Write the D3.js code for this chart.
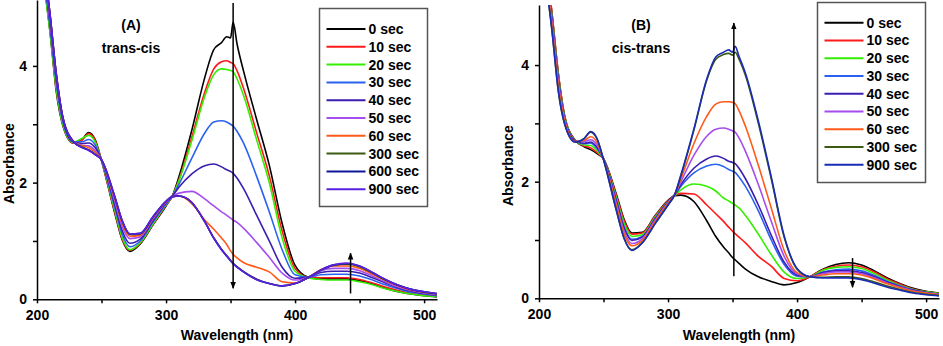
<!DOCTYPE html>
<meta charset="utf-8">
<style>
body { margin: 0; background: #fff; }
svg text { font-family: "Liberation Sans", Arial, sans-serif; font-weight: bold; fill: #000; }
.axis path, .axis line { stroke: #000; stroke-width: 1.5px; }
.axis text { font-size: 14px; }
</style>
<body>
<script src="https://cdn.jsdelivr.net/npm/d3@7"></script>
<script>
// wavelength grid (nm) shared by every spectrum
var wavelengths = [205, 210, 215, 220, 228, 235, 240, 245, 250, 260, 266, 272, 280, 290, 300, 305, 310, 320, 330, 337, 343, 347, 350, 352, 355, 360, 370, 380, 390, 400, 410, 420, 430, 440, 450, 460, 470, 480, 490, 500, 510];

// (A) trans-cis
var timesA = ["0 sec", "10 sec", "20 sec", "30 sec", "40 sec", "50 sec", "60 sec", "300 sec", "600 sec", "900 sec"];
var colorsA = ["#000000", "#ff1a1a", "#33ee00", "#2a62f0", "#3b1db0", "#a64df0", "#ff5a1a", "#3d5a12", "#10189a", "#5a20e0"];
var absA0   = [5.5, 4.6, 3.55, 2.98, 2.68, 2.74, 2.86, 2.74, 2.38, 1.50, 1.02, 0.82, 0.95, 1.28, 1.60, 1.78, 2.10, 2.90, 3.80, 4.28, 4.40, 4.50, 4.48, 4.75, 4.38, 3.92, 3.10, 2.30, 1.30, 0.58, 0.38, 0.35, 0.35, 0.35, 0.32, 0.26, 0.19, 0.13, 0.09, 0.06, 0.04];
var absA10  = [5.5, 4.65, 3.6, 3.0, 2.68, 2.73, 2.84, 2.73, 2.38, 1.52, 1.04, 0.84, 0.96, 1.29, 1.61, 1.77, 2.05, 2.78, 3.55, 3.95, 4.07, 4.09, 4.06, 4.04, 3.92, 3.62, 2.87, 2.12, 1.17, 0.53, 0.38, 0.37, 0.37, 0.37, 0.34, 0.28, 0.21, 0.15, 0.10, 0.07, 0.05];
var absA20  = [5.5, 4.6, 3.6, 3.0, 2.69, 2.76, 2.81, 2.70, 2.38, 1.55, 1.06, 0.85, 0.97, 1.30, 1.62, 1.77, 2.03, 2.72, 3.48, 3.85, 3.95, 3.94, 3.92, 3.90, 3.78, 3.50, 2.75, 2.00, 1.05, 0.48, 0.37, 0.34, 0.33, 0.33, 0.30, 0.25, 0.18, 0.13, 0.09, 0.06, 0.05];
var absA30  = [5.6, 4.7, 3.7, 3.05, 2.70, 2.70, 2.74, 2.65, 2.38, 1.60, 1.12, 0.90, 1.00, 1.33, 1.63, 1.77, 1.97, 2.42, 2.85, 3.04, 3.06, 3.04, 3.00, 2.97, 2.88, 2.68, 2.12, 1.50, 0.85, 0.42, 0.38, 0.42, 0.43, 0.43, 0.40, 0.33, 0.25, 0.18, 0.12, 0.09, 0.06];
var absA40  = [5.6, 4.75, 3.75, 3.08, 2.70, 2.67, 2.68, 2.60, 2.39, 1.65, 1.18, 0.96, 1.03, 1.35, 1.65, 1.77, 1.92, 2.15, 2.29, 2.32, 2.27, 2.22, 2.19, 2.16, 2.08, 1.90, 1.45, 1.00, 0.55, 0.36, 0.38, 0.46, 0.48, 0.48, 0.45, 0.37, 0.28, 0.20, 0.14, 0.10, 0.07];
var absA50  = [5.7, 4.8, 3.8, 3.1, 2.71, 2.64, 2.63, 2.55, 2.39, 1.70, 1.25, 1.04, 1.07, 1.38, 1.66, 1.76, 1.82, 1.85, 1.72, 1.60, 1.50, 1.44, 1.39, 1.36, 1.32, 1.22, 0.98, 0.72, 0.45, 0.33, 0.38, 0.49, 0.53, 0.53, 0.49, 0.40, 0.30, 0.21, 0.15, 0.11, 0.08];
var absA60  = [5.8, 4.9, 3.85, 3.12, 2.71, 2.63, 2.60, 2.52, 2.39, 1.74, 1.30, 1.08, 1.10, 1.40, 1.67, 1.76, 1.77, 1.64, 1.36, 1.20, 1.05, 0.94, 0.83, 0.77, 0.71, 0.63, 0.55, 0.47, 0.30, 0.28, 0.37, 0.51, 0.57, 0.57, 0.53, 0.43, 0.32, 0.23, 0.16, 0.12, 0.09];
var absA300 = [5.8, 4.9, 3.85, 3.12, 2.71, 2.61, 2.56, 2.49, 2.39, 1.77, 1.34, 1.11, 1.12, 1.41, 1.68, 1.76, 1.77, 1.66, 1.33, 1.05, 0.86, 0.75, 0.67, 0.62, 0.56, 0.48, 0.35, 0.27, 0.23, 0.27, 0.37, 0.50, 0.58, 0.60, 0.56, 0.45, 0.33, 0.24, 0.17, 0.12, 0.09];
var absA600 = [5.8, 4.9, 3.85, 3.12, 2.71, 2.60, 2.56, 2.48, 2.39, 1.78, 1.35, 1.12, 1.13, 1.42, 1.68, 1.76, 1.77, 1.66, 1.33, 1.05, 0.85, 0.74, 0.66, 0.61, 0.55, 0.47, 0.34, 0.27, 0.23, 0.27, 0.37, 0.50, 0.59, 0.61, 0.57, 0.46, 0.34, 0.24, 0.17, 0.13, 0.10];
var absA900 = [5.8, 4.9, 3.85, 3.12, 2.71, 2.60, 2.55, 2.48, 2.39, 1.78, 1.35, 1.12, 1.13, 1.42, 1.68, 1.76, 1.77, 1.66, 1.33, 1.05, 0.85, 0.74, 0.66, 0.61, 0.55, 0.47, 0.34, 0.27, 0.23, 0.27, 0.37, 0.50, 0.59, 0.62, 0.57, 0.46, 0.34, 0.24, 0.17, 0.13, 0.10];

// (B) cis-trans
var timesB = ["0 sec", "10 sec", "20 sec", "30 sec", "40 sec", "50 sec", "60 sec", "300 sec", "900 sec"];
var colorsB = ["#000000", "#ff1a1a", "#33ee00", "#2a62f0", "#3b1db0", "#a64df0", "#ff5a1a", "#3d5a12", "#1a2cb5"];
var absB0   = [5.8, 4.9, 3.85, 3.12, 2.71, 2.60, 2.55, 2.48, 2.39, 1.78, 1.35, 1.12, 1.13, 1.42, 1.68, 1.76, 1.77, 1.66, 1.33, 1.06, 0.88, 0.78, 0.70, 0.66, 0.60, 0.50, 0.37, 0.29, 0.23, 0.27, 0.37, 0.50, 0.58, 0.61, 0.57, 0.47, 0.35, 0.25, 0.17, 0.12, 0.09];
var absB10  = [5.8, 4.9, 3.85, 3.11, 2.71, 2.61, 2.58, 2.50, 2.39, 1.76, 1.33, 1.10, 1.12, 1.41, 1.67, 1.76, 1.80, 1.79, 1.60, 1.45, 1.32, 1.22, 1.15, 1.11, 1.05, 0.95, 0.72, 0.55, 0.34, 0.30, 0.37, 0.49, 0.55, 0.57, 0.54, 0.45, 0.33, 0.24, 0.16, 0.11, 0.08];
var absB20  = [5.75, 4.85, 3.8, 3.10, 2.70, 2.63, 2.62, 2.53, 2.39, 1.72, 1.28, 1.06, 1.09, 1.39, 1.66, 1.76, 1.86, 1.96, 1.92, 1.84, 1.72, 1.67, 1.63, 1.60, 1.55, 1.42, 1.10, 0.75, 0.45, 0.34, 0.37, 0.48, 0.53, 0.54, 0.51, 0.42, 0.31, 0.22, 0.15, 0.11, 0.08];
var absB30  = [5.7, 4.8, 3.75, 3.08, 2.70, 2.65, 2.66, 2.57, 2.39, 1.68, 1.22, 1.01, 1.06, 1.37, 1.65, 1.77, 1.92, 2.15, 2.27, 2.30, 2.26, 2.21, 2.18, 2.16, 2.08, 1.92, 1.50, 1.00, 0.58, 0.38, 0.37, 0.45, 0.49, 0.50, 0.47, 0.39, 0.29, 0.21, 0.14, 0.10, 0.07];
var absB40  = [5.7, 4.8, 3.75, 3.07, 2.70, 2.66, 2.68, 2.59, 2.39, 1.66, 1.20, 0.99, 1.05, 1.36, 1.65, 1.77, 1.95, 2.23, 2.39, 2.44, 2.40, 2.35, 2.33, 2.31, 2.23, 2.05, 1.60, 1.08, 0.62, 0.40, 0.37, 0.44, 0.47, 0.47, 0.44, 0.37, 0.28, 0.20, 0.14, 0.10, 0.07];
var absB50  = [5.65, 4.75, 3.7, 3.05, 2.69, 2.69, 2.72, 2.63, 2.38, 1.62, 1.15, 0.94, 1.02, 1.34, 1.64, 1.77, 2.00, 2.45, 2.78, 2.90, 2.92, 2.90, 2.87, 2.85, 2.75, 2.52, 1.95, 1.32, 0.72, 0.42, 0.37, 0.42, 0.45, 0.45, 0.42, 0.35, 0.26, 0.19, 0.13, 0.09, 0.07];
var absB60  = [5.6, 4.7, 3.65, 3.03, 2.69, 2.71, 2.77, 2.67, 2.38, 1.58, 1.10, 0.90, 0.99, 1.32, 1.63, 1.77, 2.05, 2.65, 3.12, 3.33, 3.37, 3.37, 3.36, 3.34, 3.22, 2.95, 2.28, 1.55, 0.82, 0.44, 0.37, 0.40, 0.42, 0.42, 0.40, 0.33, 0.25, 0.18, 0.12, 0.09, 0.06];
var absB300 = [5.5, 4.6, 3.55, 2.98, 2.68, 2.74, 2.85, 2.73, 2.38, 1.51, 1.03, 0.83, 0.95, 1.28, 1.60, 1.77, 2.10, 2.88, 3.74, 4.10, 4.18, 4.20, 4.17, 4.22, 4.10, 3.82, 3.00, 2.05, 1.05, 0.50, 0.37, 0.36, 0.37, 0.37, 0.34, 0.28, 0.21, 0.15, 0.10, 0.07, 0.05];
var absB900 = [5.5, 4.6, 3.55, 2.98, 2.68, 2.74, 2.86, 2.74, 2.38, 1.50, 1.02, 0.82, 0.95, 1.28, 1.60, 1.77, 2.12, 2.90, 3.76, 4.14, 4.22, 4.26, 4.22, 4.32, 4.15, 3.86, 3.04, 2.08, 1.07, 0.51, 0.37, 0.35, 0.35, 0.35, 0.32, 0.26, 0.19, 0.14, 0.09, 0.06, 0.04];

var xTicks = [200, 250, 300, 350, 400, 450, 500];
var yTicks = [0, 1, 2, 3, 4];

// arrows: [wavelength, from, to]
var arrowsA = [[352, 5.08, 0.19], [443, 0.10, 0.79]];
var arrowsB = [[351, 0.38, 4.72], [443, 0.69, 0.19]];

var panels = [
  { id: "A", title: "(A)", sub: "trans-cis", series: [absA0, absA10, absA20, absA30, absA40, absA50, absA60, absA300, absA600, absA900],
    labels: timesA, colors: colorsA, arrows: arrowsA,
    x0: 37, x1: 437, yBot: 299.3, yTop: 0, yMax: 5.13,
    titleX: 131, legend: { x: 319.5, y: 8.5, w: 108, h: 198, step: 17.8, first: 29 }, yLabelX: 9 },
  { id: "B", title: "(B)", sub: "cis-trans", series: [absB0, absB10, absB20, absB30, absB40, absB50, absB60, absB300, absB900],
    labels: timesB, colors: colorsB, arrows: arrowsB,
    x0: 539, x1: 939, yBot: 298.3, yTop: 5, yMax: 5.03,
    titleX: 641, legend: { x: 817.5, y: 2.5, w: 108, h: 180, step: 17.75, first: 22.7 }, yLabelX: 508 }
];

var svg = d3.select("body").append("svg")
    .attr("width", 943)
    .attr("height", 346);

var defs = svg.append("defs");
defs.append("marker")
    .attr("id", "head")
    .attr("viewBox", "0 0 10 10")
    .attr("refX", 9).attr("refY", 5)
    .attr("markerWidth", 7).attr("markerHeight", 7)
    .attr("markerUnits", "userSpaceOnUse")
    .attr("orient", "auto")
  .append("path")
    .attr("d", "M0,1 L10,5 L0,9 Z")
    .attr("fill", "#000");

panels.forEach(function(p) {
  var x = d3.scaleLinear().domain([200, 510]).range([p.x0, p.x1]);
  var y = d3.scaleLinear().domain([0, p.yMax]).range([p.yBot, p.yTop]);

  defs.append("clipPath").attr("id", "clip" + p.id)
    .append("rect")
      .attr("x", p.x0).attr("y", p.yTop)
      .attr("width", p.x1 - p.x0).attr("height", p.yBot - p.yTop);

  var line = d3.line()
      .x(function(d, i) { return x(wavelengths[i]); })
      .y(function(d) { return y(d); })
      .curve(d3.curveMonotoneX);

  svg.append("g")
      .attr("clip-path", "url(#clip" + p.id + ")")
    .selectAll("path")
      .data(p.series)
    .enter().append("path")
      .attr("d", line)
      .attr("fill", "none")
      .attr("stroke", function(d, i) { return p.colors[i]; })
      .attr("stroke-width", 1.6);

  // axes
  svg.append("g")
      .attr("class", "axis")
      .attr("transform", "translate(0," + p.yBot + ")")
      .call(d3.axisBottom(x).tickValues(xTicks).tickSizeInner(4).tickSizeOuter(0).tickPadding(7)
        .tickFormat(function(d) { return d % 100 === 0 ? d : ""; }));

  svg.append("g")
      .attr("class", "axis")
      .attr("transform", "translate(" + p.x0 + ",0)")
      .call(d3.axisLeft(y).tickValues(yTicks).tickSizeInner(4).tickSizeOuter(0).tickPadding(6)
        .tickFormat(function(d) { return d % 2 === 0 ? d : ""; }));

  svg.append("text")
      .attr("x", (p.x0 + p.x1) / 2)
      .attr("y", 340)
      .attr("text-anchor", "middle")
      .style("font-size", "14px")
      .text("Wavelength (nm)");

  svg.append("text")
      .attr("transform", "translate(" + (p.yLabelX + 5) + "," + ((p.yBot + p.yTop) / 2 + 14) + ") rotate(-90)")
      .attr("text-anchor", "middle")
      .style("font-size", "14px")
      .text("Absorbance");

  svg.append("text")
      .attr("x", p.titleX).attr("y", 30)
      .attr("text-anchor", "middle")
      .style("font-size", "14px")
      .text(p.title);
  svg.append("text")
      .attr("x", p.titleX).attr("y", 53)
      .attr("text-anchor", "middle")
      .style("font-size", "14px")
      .text(p.sub);

  // arrows
  p.arrows.forEach(function(a) {
    svg.append("line")
        .attr("x1", x(a[0])).attr("x2", x(a[0]))
        .attr("y1", y(a[1])).attr("y2", y(a[2]))
        .attr("stroke", "#000")
        .attr("stroke-width", 1.5)
        .attr("marker-end", "url(#head)");
  });

  // legend
  var L = p.legend;
  var lg = svg.append("g");
  lg.append("rect")
      .attr("x", L.x).attr("y", L.y)
      .attr("width", L.w).attr("height", L.h)
      .attr("fill", "#fff")
      .attr("stroke", "#555")
      .attr("stroke-width", 1.5);
  var item = lg.selectAll("g.item")
      .data(p.labels)
    .enter().append("g")
      .attr("class", "item")
      .attr("transform", function(d, i) { return "translate(" + L.x + "," + (L.y + L.first - L.y + i * L.step) + ")"; });
  item.append("line")
      .attr("x1", 7).attr("x2", 46)
      .attr("stroke", function(d, i) { return p.colors[i]; })
      .attr("stroke-width", 2);
  item.append("text")
      .attr("x", 49).attr("dy", "0.35em")
      .style("font-size", "14px")
      .text(function(d) { return d; });
});
</script>
